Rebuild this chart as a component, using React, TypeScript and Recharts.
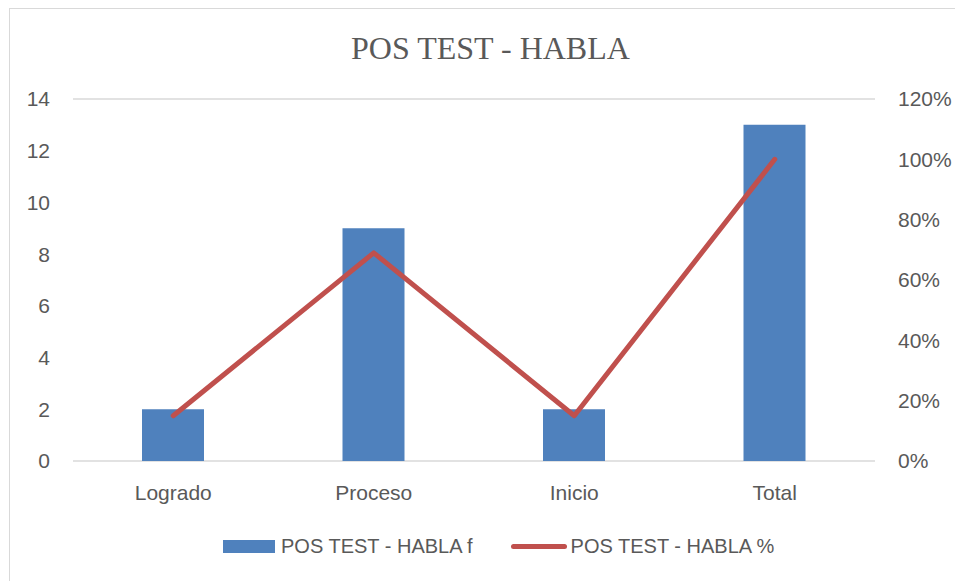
import { ComposedChart, Bar, Line, XAxis, YAxis, CartesianGrid, Legend } from "recharts";

const categories = ["Logrado", "Proceso", "Inicio", "Total"];
const frecuencia = [2, 9, 2, 13];
const porcentaje = [15, 69, 15, 100];
const leftTicks = [0, 2, 4, 6, 8, 10, 12, 14];
const rightTicks = [0, 20, 40, 60, 80, 100, 120];

const data = categories.map((name, i) => ({
  name,
  f: frecuencia[i],
  pct: porcentaje[i],
}));

const TEXT = "#595959";
const FONT = "'Liberation Sans', Arial, sans-serif";

const LegendBox = () => (
  <div
    style={{
      display: "flex",
      alignItems: "center",
      height: 40,
      paddingLeft: 223,
      fontFamily: FONT,
      fontSize: 20,
      color: TEXT,
      whiteSpace: "nowrap",
    }}
  >
    <span style={{ display: "inline-block", width: 52, height: 13, background: "#4F81BD" }} />
    <span style={{ marginLeft: 6 }}>POS TEST - HABLA f</span>
    <span
      style={{
        display: "inline-block",
        width: 56,
        height: 5,
        borderRadius: 3,
        background: "#C0504D",
        marginLeft: 38,
      }}
    />
    <span style={{ marginLeft: 4 }}>POS TEST - HABLA %</span>
  </div>
);

export default function App() {
  return (
    <div style={{ position: "absolute", left: 0, top: 0, width: 955, height: 581, background: "#fff", overflow: "hidden" }}>
      <div
        style={{
          position: "absolute",
          left: 9,
          top: 8,
          width: 960,
          height: 600,
          border: "1.5px solid #d9d9d9",
          boxSizing: "border-box",
        }}
      />
      <div
        style={{
          position: "absolute",
          left: 351,
          top: 32,
          fontFamily: "'Liberation Serif', 'Times New Roman', serif",
          fontSize: 32,
          lineHeight: "32px",
          color: TEXT,
          whiteSpace: "nowrap",
        }}
      >
        POS TEST - HABLA
      </div>
      <ComposedChart
        width={955}
        height={581}
        data={data}
        margin={{ top: 99, right: 0, left: 0, bottom: 15 }}
        style={{ position: "absolute", left: 0, top: 0 }}
      >
        <CartesianGrid vertical={false} stroke="#d9d9d9" strokeWidth={1.5} />
        <XAxis
          dataKey="name"
          axisLine={false}
          tickLine={false}
          tickSize={0}
          tickMargin={24}
          height={65}
          tick={{ fill: TEXT, fontSize: 21, fontFamily: FONT }}
        />
        <YAxis
          yAxisId="left"
          domain={[0, 14]}
          ticks={leftTicks}
          width={73}
          axisLine={false}
          tickLine={false}
          tickSize={0}
          tickMargin={23}
          tick={{ fill: TEXT, fontSize: 21, fontFamily: FONT }}
        />
        <YAxis
          yAxisId="right"
          orientation="right"
          domain={[0, 120]}
          ticks={rightTicks}
          width={80}
          axisLine={false}
          tickLine={false}
          tickSize={0}
          tickMargin={23}
          tickFormatter={(v) => `${v}%`}
          tick={{ fill: TEXT, fontSize: 21, fontFamily: FONT }}
        />
        <Legend verticalAlign="bottom" height={40} wrapperStyle={{ left: 0, width: 955 }} content={() => <LegendBox />} />
        <Bar yAxisId="left" dataKey="f" name="POS TEST - HABLA f" fill="#4F81BD" barSize={62} isAnimationActive={false} />
        <Line
          yAxisId="right"
          dataKey="pct"
          name="POS TEST - HABLA %"
          stroke="#C0504D"
          strokeWidth={5}
          strokeLinecap="round"
          strokeLinejoin="round"
          dot={false}
          activeDot={false}
          isAnimationActive={false}
        />
      </ComposedChart>
    </div>
  );
}
